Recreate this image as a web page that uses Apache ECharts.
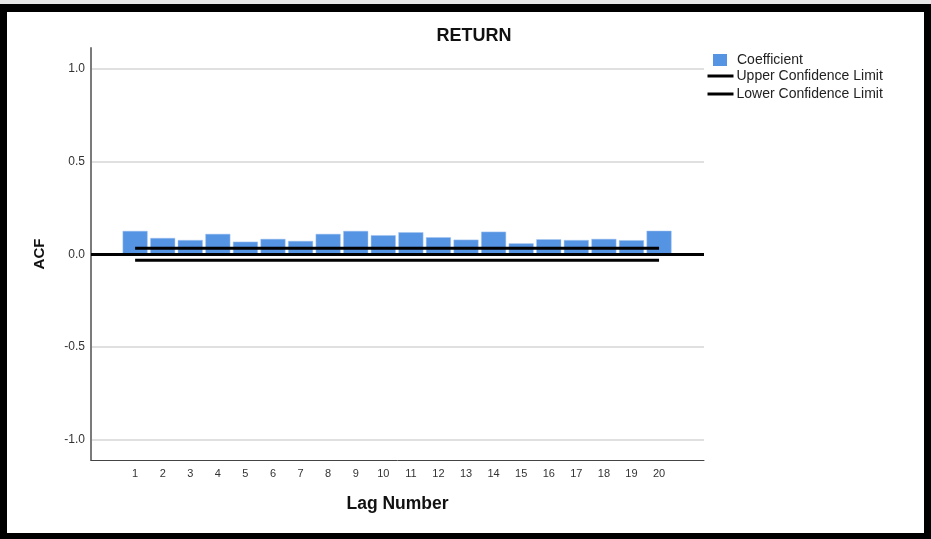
<!DOCTYPE html>
<html>
<head>
<meta charset="utf-8">
<title>RETURN – ACF</title>
<script src="https://cdn.jsdelivr.net/npm/echarts@6/dist/echarts.min.js"></script>
<style>
  html, body { margin: 0; padding: 0; background: #ffffff; }
  #chart { width: 931px; height: 539px; }
</style>
</head>
<body>
<div id="chart"></div>
<script>
// Autocorrelation of RETURN by lag
const lags = [1, 2, 3, 4, 5, 6, 7, 8, 9, 10, 11, 12, 13, 14, 15, 16, 17, 18, 19, 20];
const coefficient = [0.126, 0.088, 0.077, 0.110, 0.068, 0.083, 0.072, 0.110, 0.126, 0.103,
                     0.119, 0.092, 0.079, 0.122, 0.059, 0.081, 0.077, 0.083, 0.076, 0.127];
const upperLimit = [0.032, 0.032, 0.032, 0.032, 0.032, 0.032, 0.032, 0.032, 0.032, 0.032,
                    0.032, 0.032, 0.032, 0.032, 0.032, 0.032, 0.032, 0.032, 0.032, 0.032];
const lowerLimit = [-0.032, -0.032, -0.032, -0.032, -0.032, -0.032, -0.032, -0.032, -0.032, -0.032,
                    -0.032, -0.032, -0.032, -0.032, -0.032, -0.032, -0.032, -0.032, -0.032, -0.032];
const yTicks = [-1.0, -0.5, 0.0, 0.5, 1.0];

const FONT = '"Liberation Sans", Arial, sans-serif';
const BAR_COLOR = '#5593e3';

const pairs = (vals) => lags.map((lag, i) => [lag, vals[i]]);

const chart = echarts.init(document.getElementById('chart'), null, { renderer: 'canvas' });

chart.setOption({
  animation: false,
  backgroundColor: '#ffffff',
  textStyle: { fontFamily: FONT },
  title: {
    text: 'RETURN',
    left: 469,
    top: 22,
    textAlign: 'center',
    textStyle: { fontFamily: FONT, fontSize: 18, fontWeight: 'bold', color: '#111' }
  },
  grid: { left: 91, right: 227, top: 48, bottom: 79, containLabel: false },
  legend: [
    {
      data: [{ name: 'Coefficient', icon: 'rect' }],
      left: 713, top: 53, orient: 'vertical',
      itemWidth: 14, itemHeight: 12, itemGap: 4, padding: 0,
      textStyle: { fontFamily: FONT, fontSize: 14, color: '#222', padding: [2, 0, 0, 5] },
      itemStyle: { borderWidth: 0 }
    },
    {
      data: ['Upper Confidence Limit', 'Lower Confidence Limit'],
      left: 706, top: 69, orient: 'vertical',
      itemWidth: 26, itemHeight: 14, itemGap: 4, padding: 0,
      textStyle: { fontFamily: FONT, fontSize: 14, color: '#222', padding: [0, 0, 0, -2] },
      itemStyle: { color: 'rgba(0,0,0,0)', borderWidth: 0, opacity: 0 },
      lineStyle: { color: '#000', width: 3 }
    }
  ],
  xAxis: {
    type: 'value',
    min: -0.6,
    max: 21.63,
    name: 'Lag Number',
    nameLocation: 'middle',
    nameGap: 35,
    nameTextStyle: { fontFamily: FONT, fontSize: 17.5, fontWeight: 'bold', color: '#111' },
    axisLine: { show: true, onZero: false, lineStyle: { color: '#444', width: 1 } },
    axisTick: { show: false },
    splitLine: { show: false },
    axisLabel: {
      customValues: lags,
      margin: 8,
      fontFamily: FONT, fontSize: 11, color: '#333'
    }
  },
  yAxis: {
    type: 'value',
    min: -1.11,
    max: 1.113,
    name: 'ACF',
    nameLocation: 'middle',
    nameRotate: 90,
    nameGap: 44,
    nameTextStyle: { fontFamily: FONT, fontSize: 15, fontWeight: 'bold', color: '#111' },
    axisLine: { show: true, onZero: false, lineStyle: { color: '#7a7a7a', width: 2 } },
    axisTick: { show: false, customValues: yTicks },
    splitLine: { show: true, lineStyle: { color: '#d6d6d6', width: 1.5 } },
    axisLabel: {
      customValues: yTicks,
      margin: 6,
      fontFamily: FONT, fontSize: 12, color: '#333',
      formatter: (v) => v.toFixed(1)
    }
  },
  series: [
    {
      name: 'Coefficient',
      type: 'bar',
      data: pairs(coefficient),
      barWidth: 25,
      itemStyle: { color: BAR_COLOR, borderColor: '#a9c8f0', borderWidth: 0.5 },
      z: 2,
      markLine: {
        silent: true,
        symbol: 'none',
        label: { show: false },
        lineStyle: { color: '#000', width: 3, type: 'solid' },
        data: [{ yAxis: 0 }],
        z: 4
      }
    },
    {
      name: 'Upper Confidence Limit',
      type: 'line',
      data: pairs(upperLimit),
      symbol: 'none',
      lineStyle: { color: '#000', width: 3 },
      itemStyle: { color: '#000' },
      z: 5
    },
    {
      name: 'Lower Confidence Limit',
      type: 'line',
      data: pairs(lowerLimit),
      symbol: 'none',
      lineStyle: { color: '#000', width: 3 },
      itemStyle: { color: '#000' },
      z: 5
    }
  ],
  graphic: [
    // outer frame
    { type: 'rect', shape: { x: 0, y: 0, width: 931, height: 4 }, style: { fill: '#e6e6e6' }, silent: true },
    { type: 'rect', shape: { x: 0, y: 4, width: 931, height: 8 }, style: { fill: '#000' }, silent: true },
    { type: 'rect', shape: { x: 0, y: 4, width: 7, height: 535 }, style: { fill: '#000' }, silent: true },
    { type: 'rect', shape: { x: 924, y: 4, width: 7, height: 535 }, style: { fill: '#000' }, silent: true },
    { type: 'rect', shape: { x: 0, y: 533, width: 931, height: 6 }, style: { fill: '#000' }, silent: true }
  ]
});
</script>
</body>
</html>
